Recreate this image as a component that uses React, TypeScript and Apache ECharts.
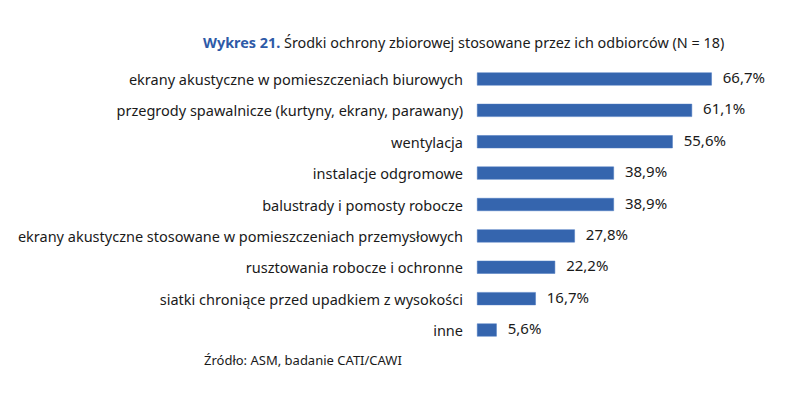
import React, { useEffect, useRef } from "react";
import * as echarts from "echarts";

const categories = [
  "ekrany akustyczne w pomieszczeniach biurowych",
  "przegrody spawalnicze (kurtyny, ekrany, parawany)",
  "wentylacja",
  "instalacje odgromowe",
  "balustrady i pomosty robocze",
  "ekrany akustyczne stosowane w pomieszczeniach przemysłowych",
  "rusztowania robocze i ochronne",
  "siatki chroniące przed upadkiem z wysokości",
  "inne",
];
const values = [66.7, 61.1, 55.6, 38.9, 38.9, 27.8, 22.2, 16.7, 5.6];

const titleBold = "Wykres 21.";
const titleRest = " Środki ochrony zbiorowej stosowane przez ich odbiorców (N = 18)";
const sourceText = "Źródło: ASM, badanie CATI/CAWI";

const FONT = "'Noto Sans', sans-serif";

export default function App() {
  const ref = useRef<HTMLDivElement>(null);
  useEffect(() => {
    const chart = echarts.init(ref.current!, null, { renderer: "svg" });
    chart.setOption({
      animation: false,
      backgroundColor: "#ffffff",
      title: [
        {
          text: `{b|${titleBold}}{n|${titleRest}}`,
          left: 198,
          top: 30,
          textStyle: {
            fontWeight: "normal",
            rich: {
              b: { fontFamily: FONT, fontSize: 14.4, fontWeight: "bold", color: "#2e5aa7" },
              n: { fontFamily: FONT, fontSize: 14.4, fontWeight: "normal", color: "#1a1a1a" },
            },
          },
        },
        {
          text: sourceText,
          left: 199,
          top: 348,
          textStyle: { fontFamily: FONT, fontSize: 13, fontWeight: "normal", color: "#1a1a1a" },
        },
      ],
      grid: { left: 477, right: 76.6, top: 63.3, bottom: 50.3, containLabel: false },
      xAxis: {
        type: "value",
        min: 0,
        max: 70,
        show: false,
      },
      yAxis: {
        type: "category",
        inverse: true,
        data: categories,
        axisLine: { show: false },
        axisTick: { show: false },
        axisLabel: {
          margin: 14,
          fontFamily: FONT,
          fontSize: 14.5,
          color: "#1a1a1a",
        },
      },
      series: [
        {
          type: "bar",
          data: values,
          barWidth: 13,
          itemStyle: { color: "#3565ae", borderColor: "#4a78c0", borderWidth: 0.5 },
          label: {
            show: true,
            position: "right",
            distance: 11,
            offset: [0, -2],
            fontFamily: FONT,
            fontSize: 15,
            color: "#1a1a1a",
            formatter: (p: any) => p.value.toFixed(1).replace(".", ",") + "%",
          },
        },
      ],
    });
    return () => chart.dispose();
  }, []);
  return (
    <div
      ref={ref}
      style={{ position: "fixed", left: 0, top: 0, width: 800, height: 396 }}
    />
  );
}
